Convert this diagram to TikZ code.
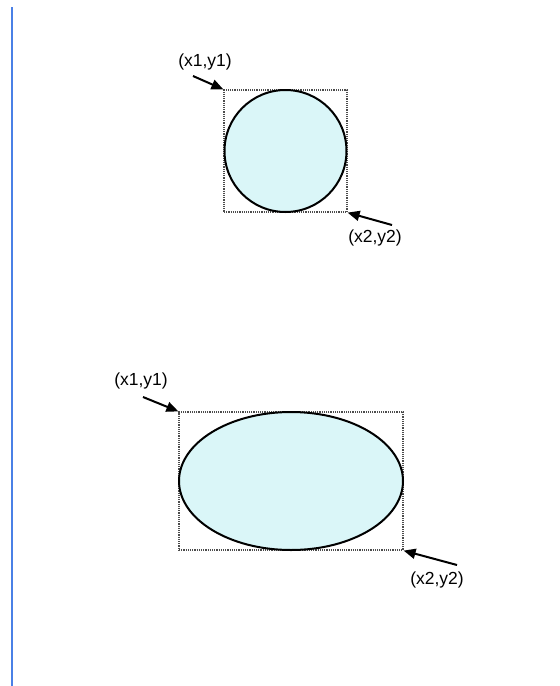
\documentclass[tikz,border=0pt]{standalone}
\usepackage{fontspec}
\setmainfont{Liberation Sans}
\usepackage{tikz}
\usetikzlibrary{shapes.geometric,arrows.meta,positioning,calc}

\definecolor{shapefill}{RGB}{218,246,248}
\definecolor{marginblue}{RGB}{74,128,230}

\tikzset{
  bbox/.style={draw=black!70,densely dotted,line width=1.2pt,inner sep=0pt},
  ptr/.style={line width=2pt,-{Triangle[length=12pt,width=10pt]}},
  lbl/.style={font=\fontsize{17.5}{21}\selectfont,inner sep=0pt}
}

\begin{document}
\begin{tikzpicture}[x=1pt,y=-1pt]
        \useasboundingbox (0,0) rectangle (560,686);
        % margin line
        \coordinate (mtop) at (11.5,7);
        \coordinate (mbot) at (11.5,686);
        \draw[marginblue,line width=2pt] (mtop)--(mbot);

        % circle in its box
        \node[bbox,minimum width=123pt,minimum height=122pt] (boxA) at (285.5,151) {};
        \node[circle,draw,line width=2pt,fill=shapefill,minimum size=122pt,inner sep=0pt] (circ) at (boxA.center) {};
        \node[lbl] (tlA) at (205,62) {(x1,y1)};
        \node[lbl] (brA) at (375,238) {(x2,y2)};
        \coordinate (tailA) at (193,76);
        \coordinate (tailB) at (392,225);
        \draw[ptr] (tailA)--(boxA.north west);
        \draw[ptr] (tailB)--(boxA.south east);

        % ellipse in its box
        \node[bbox,minimum width=224pt,minimum height=138pt] (boxB) at (291,481) {};
        \node[ellipse,draw,line width=2pt,fill=shapefill,minimum width=224pt,minimum height=138pt,inner sep=0pt] (ell) at (boxB.center) {};
        \node[lbl] (tlB) at (141,381) {(x1,y1)};
        \node[lbl] (brB) at (437,580) {(x2,y2)};
        \coordinate (tailC) at (143,397);
        \coordinate (tailD) at (457,565);
        \draw[ptr] (tailC)--(boxB.north west);
        \draw[ptr] (tailD)--(boxB.south east);
\end{tikzpicture}
\end{document}
